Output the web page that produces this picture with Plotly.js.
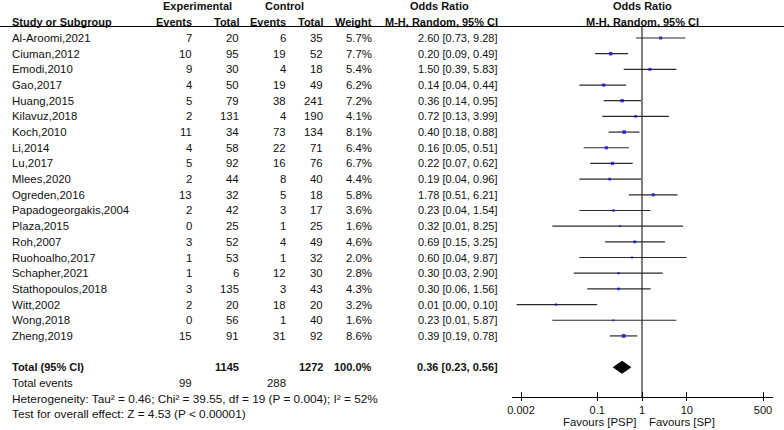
<!DOCTYPE html>
<html>
<head>
<meta charset="utf-8">
<script src="https://cdn.plot.ly/plotly-3.0.1.min.js"></script>
<style>html,body{margin:0;padding:0;background:#fff;}#chart{width:784px;height:430px;}</style>
</head>
<body>
<div id="chart"></div>
<script>
const studies = ["Al-Aroomi,2021","Ciuman,2012","Emodi,2010","Gao,2017","Huang,2015","Kilavuz,2018","Koch,2010","Li,2014","Lu,2017","Mlees,2020","Ogreden,2016","Papadogeorgakis,2004","Plaza,2015","Roh,2007","Ruohoalho,2017","Schapher,2021","Stathopoulos,2018","Witt,2002","Wong,2018","Zheng,2019"];
const expEvents = [7,10,9,4,5,2,11,4,5,2,13,2,0,3,1,1,3,2,0,15];
const expTotal = [20,95,30,50,79,131,34,58,92,44,32,42,25,52,53,6,135,20,56,91];
const ctrlEvents = [6,19,4,19,38,4,73,22,16,8,5,3,1,4,1,12,3,18,1,31];
const ctrlTotal = [35,52,18,49,241,190,134,71,76,40,18,17,25,49,32,30,43,20,40,92];
const weights = [5.7,7.7,5.4,6.2,7.2,4.1,8.1,6.4,6.7,4.4,5.8,3.6,1.6,4.6,2.0,2.8,4.3,3.2,1.6,8.6];
const oddsRatio = [2.60,0.20,1.50,0.14,0.36,0.72,0.40,0.16,0.22,0.19,1.78,0.23,0.32,0.69,0.60,0.30,0.30,0.012,0.23,0.39];
const ciLower = [0.73,0.09,0.39,0.04,0.14,0.13,0.18,0.05,0.07,0.04,0.51,0.04,0.01,0.15,0.04,0.03,0.06,0.0016,0.01,0.19];
const ciUpper = [9.28,0.49,5.83,0.44,0.95,3.99,0.88,0.51,0.62,0.96,6.21,1.54,8.25,3.25,9.87,2.90,1.56,0.10,5.87,0.78];
const pooledOR = 0.36, pooledLower = 0.23, pooledUpper = 0.56;
const totalExp = 1145, totalCtrl = 1272, totalWeight = "100.0%";
const totalEventsExp = 99, totalEventsCtrl = 288;
const heterogeneityText = "Heterogeneity: Tau² = 0.46; Chi² = 39.55, df = 19 (P = 0.004); I² = 52%";
const overallEffectText = "Test for overall effect: Z = 4.53 (P < 0.00001)";
const tickVals = [0.002, 0.1, 1, 10, 500];
const tickText = ["0.002", "0.1", "1", "10", "500"];
const favoursLeft = "Favours [PSP]", favoursRight = "Favours [SP]";
const nullValue = 1;

// ---- layout geometry (pixels) ----
const W = 784, H = 430;
const row0 = 38, rowStep = 15.68;
const totalRow = studies.length + 1;
const yTop = -row0 / rowStep, yBot = (H - row0) / rowStep;
const axisPix = 397, headerLinePix = 26.5;
const FONT = "Liberation Sans, Arial, sans-serif";
const TXT = "#111";
const REG = 11.4, BOLD = 11, FOOT = 11.8;

const colStudy = 10, colExpEv = 194, colExpTot = 241, colCtrlEv = 288, colCtrlTot = 325, colWeight = 374, colOR = 500;

function px(x){ return x / W; }
function rowOfPix(p){ return (p - row0) / rowStep; }

const ann = [];
function addText(text, xpix, anchor, row, bold, size){
  ann.push({text: bold ? "<b>" + text + "</b>" : text, xref: "paper", x: px(xpix), xanchor: anchor,
    yref: "y", y: row, yanchor: "middle", showarrow: false,
    font: {family: FONT, size: size || (bold ? BOLD : REG), color: TXT}});
}

// headers
const h1 = rowOfPix(6), h2 = rowOfPix(21.5);
addText("Experimental", 197, "center", h1, true);
addText("Control", 284, "center", h1, true);
addText("Odds Ratio", 440, "center", h1, true);
addText("Odds Ratio", 642, "center", h1, true);
addText("Study or Subgroup", colStudy, "left", h2, true);
addText("Events", colExpEv, "right", h2, true);
addText("Total", colExpTot, "right", h2, true);
addText("Events", colCtrlEv, "right", h2, true);
addText("Total", colCtrlTot, "right", h2, true);
addText("Weight", colWeight, "right", h2, true);
addText("M-H, Random, 95% CI", colOR, "right", h2, true);
addText("M-H, Random, 95% CI", 642, "center", h2, true);

studies.forEach((s, i) => {
  addText(s, colStudy, "left", i, false);
  addText(String(expEvents[i]), colExpEv, "right", i, false);
  addText(String(expTotal[i]), colExpTot, "right", i, false);
  addText(String(ctrlEvents[i]), colCtrlEv, "right", i, false);
  addText(String(ctrlTotal[i]), colCtrlTot, "right", i, false);
  addText(weights[i].toFixed(1) + "%", colWeight, "right", i, false);
  addText(oddsRatio[i].toFixed(2) + " [" + ciLower[i].toFixed(2) + ", " + ciUpper[i].toFixed(2) + "]", colOR, "right", i, false, 11);
});

addText("Total (95% CI)", colStudy, "left", totalRow, true);
addText(String(totalExp), colExpTot, "right", totalRow, true);
addText(String(totalCtrl), colCtrlTot, "right", totalRow, true);
addText(totalWeight, colWeight, "right", totalRow, true);
addText(pooledOR.toFixed(2) + " [" + pooledLower.toFixed(2) + ", " + pooledUpper.toFixed(2) + "]", colOR, "right", totalRow, true);
addText("Total events", colStudy, "left", totalRow + 1, false);
addText(String(totalEventsExp), colExpEv, "right", totalRow + 1, false);
addText(String(totalEventsCtrl), colCtrlEv, "right", totalRow + 1, false);
addText(heterogeneityText, colStudy, "left", totalRow + 2, false, FOOT);
addText(overallEffectText, colStudy, "left", totalRow + 3, false, FOOT);

ann.push({text: favoursLeft, xref: "paper", x: px(638), xanchor: "right", yref: "paper", y: 1 - 422/H, yanchor: "middle",
  showarrow: false, font: {family: FONT, size: REG, color: TXT}});
ann.push({text: favoursRight, xref: "paper", x: px(647), xanchor: "left", yref: "paper", y: 1 - 422/H, yanchor: "middle",
  showarrow: false, font: {family: FONT, size: REG, color: TXT}});

// ---- traces ----
const ciX = [], ciY = [];
studies.forEach((s, i) => { ciX.push(ciLower[i], ciUpper[i], null); ciY.push(i, i, null); });
const ciTrace = {type: "scatter", mode: "lines", x: ciX, y: ciY, line: {color: "#2a2a2a", width: 1.2},
  hoverinfo: "skip", showlegend: false, xaxis: "x", yaxis: "y"};
const ptTrace = {type: "scatter", mode: "markers", x: oddsRatio, y: studies.map((s, i) => i),
  marker: {symbol: "square", color: "#0000ee", size: weights.map(w => Math.max(2, 1.3 * Math.sqrt(w))), line: {width: 0}},
  showlegend: false, xaxis: "x", yaxis: "y"};
const dh = 6 / rowStep;
const diamond = {type: "scatter", mode: "lines", fill: "toself", fillcolor: "#000",
  x: [pooledLower, pooledOR, pooledUpper, pooledOR, pooledLower],
  y: [totalRow, totalRow - dh, totalRow, totalRow + dh, totalRow],
  line: {color: "#000", width: 1}, showlegend: false, xaxis: "x", yaxis: "y"};
const nullTrace = {type: "scatter", mode: "lines", x: [nullValue, nullValue], y: [rowOfPix(headerLinePix), rowOfPix(axisPix)],
  line: {color: "#000", width: 1}, hoverinfo: "skip", showlegend: false, xaxis: "x", yaxis: "y"};

// axis range so 0.002 sits at 521px and 500 at 763px, axis from 512 to 773
const ppd = (763 - 521) / (Math.log10(500) - Math.log10(0.002));
const xr = [Math.log10(0.002) - (521 - 512) / ppd, Math.log10(500) + (773 - 763) / ppd];
const xdom = [512 / W, 773 / W];
const axPos = 1 - axisPix / H;

const layout = {
  width: W, height: H,
  margin: {l: 0, r: 0, t: 0, b: 0},
  paper_bgcolor: "#fff", plot_bgcolor: "rgba(0,0,0,0)",
  showlegend: false,
  font: {family: FONT, size: 11, color: TXT},
  xaxis: {type: "log", range: xr, domain: xdom, anchor: "free", position: axPos,
    showgrid: false, zeroline: false, showline: true, linecolor: "#000", linewidth: 1,
    ticks: "outside", ticklen: 3, tickcolor: "#000", tickwidth: 1,
    tickvals: tickVals, ticktext: tickText, tickfont: {family: FONT, size: 11, color: TXT}, fixedrange: true},
  xaxis2: {type: "log", range: xr, domain: xdom, anchor: "free", position: axPos, overlaying: "x",
    showgrid: false, zeroline: false, showline: false, ticks: "inside", ticklen: 5, tickcolor: "#000", tickwidth: 1,
    tickvals: tickVals, showticklabels: false},
  yaxis: {range: [yBot, yTop], domain: [0, 1], visible: false, fixedrange: true},
  shapes: [{type: "line", xref: "paper", yref: "paper", x0: 0, x1: 1, y0: 1 - headerLinePix / H, y1: 1 - headerLinePix / H,
    line: {color: "#000", width: 1}}],
  annotations: ann
};
const dummy2 = {type: "scatter", mode: "markers", x: [nullValue], y: [0], xaxis: "x2", yaxis: "y", marker: {opacity: 0}, hoverinfo: "skip", showlegend: false};

Plotly.newPlot("chart", [nullTrace, ciTrace, ptTrace, diamond, dummy2], layout, {staticPlot: true, displayModeBar: false});
</script>
</body>
</html>
